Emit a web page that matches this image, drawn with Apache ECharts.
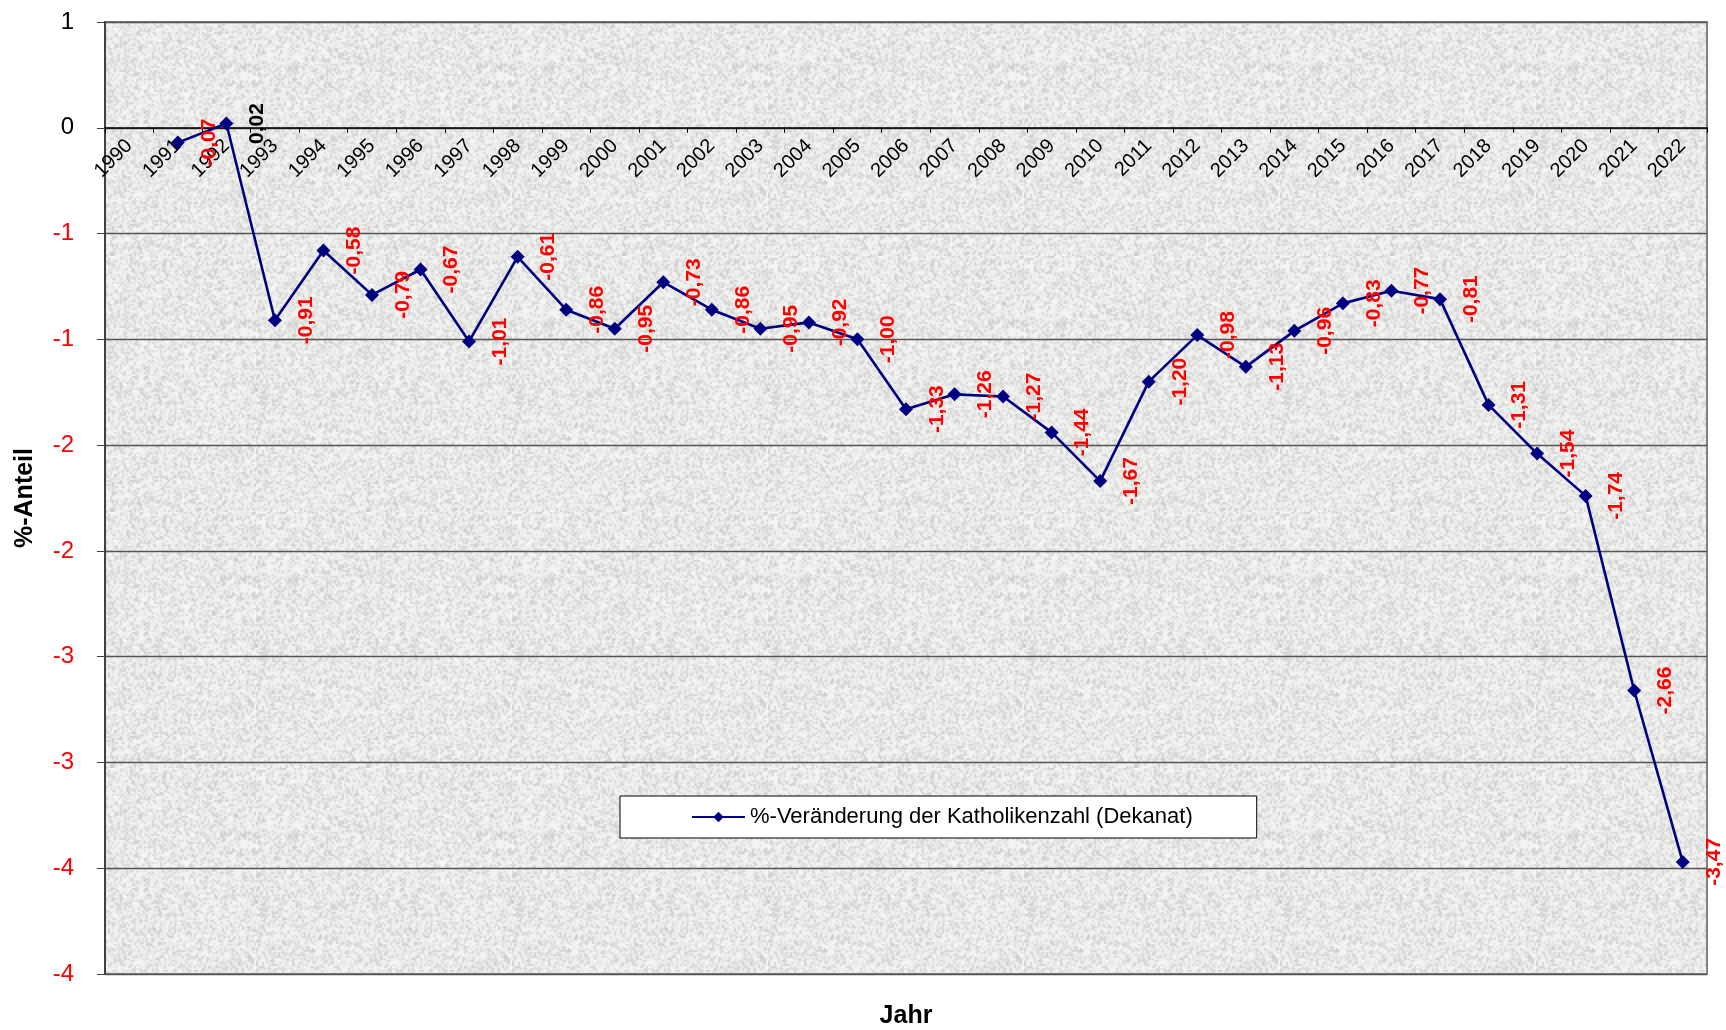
<!DOCTYPE html>
<html>
<head>
<meta charset="utf-8">
<title>%-Veränderung der Katholikenzahl (Dekanat)</title>
<script src="https://cdn.jsdelivr.net/npm/echarts@6/dist/echarts.min.js"></script>
<style>
  html, body { margin: 0; padding: 0; background: #fff; }
  #chart { width: 1726px; height: 1030px; }
</style>
</head>
<body>
<div id="chart"></div>
<script>
// Jahre (Kategorien)
const years = ['1990', '1991', '1992', '1993', '1994', '1995', '1996', '1997', '1998', '1999',
  '2000', '2001', '2002', '2003', '2004', '2005', '2006', '2007', '2008', '2009',
  '2010', '2011', '2012', '2013', '2014', '2015', '2016', '2017', '2018', '2019',
  '2020', '2021', '2022'];

// %-Veränderung der Katholikenzahl (Dekanat), 1990 ohne Wert
const changes = [null, -0.07, 0.02, -0.91, -0.58, -0.79, -0.67, -1.01, -0.61, -0.86,
  -0.95, -0.73, -0.86, -0.95, -0.92, -1.00, -1.33, -1.26, -1.27, -1.44,
  -1.67, -1.20, -0.98, -1.13, -0.96, -0.83, -0.77, -0.81, -1.31, -1.54,
  -1.74, -2.66, -3.47];

const yMin = -4;
const yMax = 0.5;
const yStep = 0.5;

const gridTop = 22;
const gridHeight = 952;
// the category axis sits on the zero line, as in the original
const zeroOffset = -(gridHeight - (yMax - 0) / (yMax - yMin) * gridHeight);

const font = "'Liberation Sans', Arial, sans-serif";

// granite-like plot background
function makeTexture() {
  const n = 128;
  const small = document.createElement('canvas');
  small.width = small.height = n;
  const sctx = small.getContext('2d');
  const img = sctx.createImageData(n, n);
  for (let y = 0; y < n; y++) {
    for (let x = 0; x < n; x++) {
      let h = Math.imul(x, 374761393) + Math.imul(y, 668265263);
      h = Math.imul(h ^ (h >>> 13), 1274126177);
      h = (h ^ (h >>> 16)) >>> 0;
      const r = h / 4294967296;
      const g = Math.round(247 - r * r * 46);
      const i = (y * n + x) * 4;
      img.data[i] = g;
      img.data[i + 1] = g;
      img.data[i + 2] = g - 2;
      img.data[i + 3] = 255;
    }
  }
  sctx.putImageData(img, 0, 0);
  const c = document.createElement('canvas');
  c.width = c.height = n * 2;
  const ctx = c.getContext('2d');
  ctx.imageSmoothingEnabled = true;
  ctx.drawImage(small, 0, 0, n * 2, n * 2);
  return c;
}

// Excel-style rounding of the tick labels (0 decimals, half away from zero)
function tickLabel(v) {
  const r = Math.sign(v) * Math.round(Math.abs(v));
  return r === 0 ? '0' : String(r);
}

const seriesData = changes.map(v => v === null ? null : {
  value: v,
  label: { color: v < 0 ? '#ff0000' : '#000000' }
});

const chart = echarts.init(document.getElementById('chart'));
chart.setOption({
  animation: false,
  backgroundColor: '#ffffff',
  textStyle: { fontFamily: font },
  grid: {
    left: 105,
    top: gridTop,
    width: 1602,
    height: gridHeight,
    containLabel: false,
    outerBoundsMode: 'none',
    show: true,
    backgroundColor: { image: makeTexture(), repeat: 'repeat' },
    borderColor: '#808080',
    borderWidth: 2
  },
  legend: {
    left: 620,
    top: 796,
    padding: [10, 64, 10, 71],
    backgroundColor: '#ffffff',
    borderColor: '#000000',
    borderWidth: 1,
    itemWidth: 53,
    itemHeight: 13,
    textStyle: { fontFamily: font, fontSize: 22, color: '#000000' },
    data: ['%-Veränderung der Katholikenzahl (Dekanat)']
  },
  xAxis: {
    type: 'category',
    data: years,
    boundaryGap: true,
    position: 'bottom',
    offset: zeroOffset,
    name: 'Jahr',
    nameLocation: 'middle',
    nameGap: 876,
    nameTextStyle: { fontFamily: font, fontSize: 25, fontWeight: 'bold', color: '#000000' },
    axisLine: { onZero: false, lineStyle: { color: '#000000', width: 1.5 } },
    axisTick: { show: true, length: 5, lineStyle: { color: '#000000', width: 1 } },
    axisLabel: {
      interval: 0,
      rotate: 45,
      margin: 15,
      fontSize: 20,
      color: '#000000',
      fontFamily: font
    },
    splitLine: { show: false }
  },
  yAxis: {
    type: 'value',
    min: yMin,
    max: yMax,
    interval: yStep,
    name: '%-Anteil',
    nameLocation: 'middle',
    nameRotate: 90,
    nameGap: 67,
    nameTextStyle: { fontFamily: font, fontSize: 25, fontWeight: 'bold', color: '#000000' },
    axisLine: { show: true, lineStyle: { color: '#404040', width: 2 } },
    axisTick: { show: true, length: 8, lineStyle: { color: '#404040', width: 1 } },
    axisLabel: {
      margin: 31,
      fontSize: 24,
      fontFamily: font,
      formatter: tickLabel,
      color: v => (Number(v) < 0 ? '#ff0000' : '#000000')
    },
    splitLine: { show: true, lineStyle: { color: '#555555', width: 1.3 } }
  },
  series: [{
    name: '%-Veränderung der Katholikenzahl (Dekanat)',
    type: 'line',
    data: seriesData,
    connectNulls: false,
    symbol: 'diamond',
    symbolSize: 14,
    itemStyle: { color: '#000080' },
    lineStyle: { color: '#000080', width: 2.6 },
    label: {
      show: true,
      position: 'right',
      distance: 24,
      rotate: 90,
      align: 'center',
      verticalAlign: 'middle',
      fontFamily: font,
      fontSize: 21,
      fontWeight: 'bold',
      formatter: p => p.value.toFixed(2).replace('.', ',')
    },
    emphasis: { disabled: true }
  }]
});
</script>
</body>
</html>
